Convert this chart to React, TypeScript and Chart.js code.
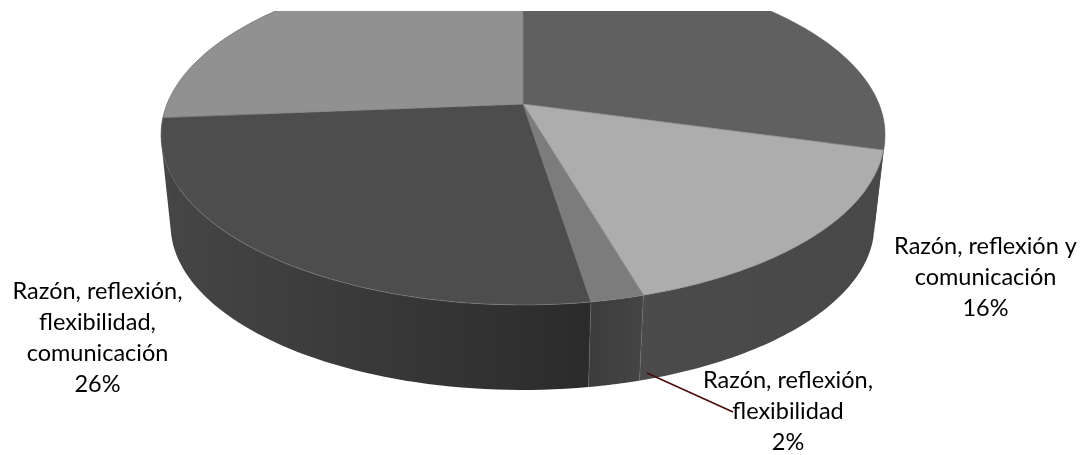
import React, { useEffect, useRef } from "react";
import { Chart, registerables } from "chart.js";

Chart.register(...registerables);

const categories = [
  "",
  "Razón, reflexión y comunicación",
  "Razón, reflexión, flexibilidad",
  "Razón, reflexión, flexibilidad, comunicación",
  "",
];
const shares = [29.3, 16.2, 2, 26.2, 26.3];
const labelLines = [
  null,
  ["Razón, reflexión y", "comunicación"],
  ["Razón, reflexión,", "flexibilidad"],
  ["Razón, reflexión,", "flexibilidad,", "comunicación"],
  null,
];
const topColors = ["#606060", "#adadad", "#7c7c7c", "#4d4d4d", "#919191"];
const sideStops = [
  ["#4f4f4f", "#4f4f4f"],
  ["#4b4b4b", "#484848"],
  ["#3c3c3c", "#454545"],
  ["#464646", "#2b2b2b"],
  ["#444444", "#444444"],
];

const W = 1081;
const H = 455;
const TOP = { cx: 523, cy: 104, a: 164.3, c: -0.1824, d: 356 };
const BOTTOM = { cx: 522.5, cy: 194.9, a: 159.5, c: -0.1824, d: 346 };
const CLIP_Y = 11;
const labelAnchors: Record<number, { x: number; y: number }> = {
  1: { x: 985.5, y: 246 },
  2: { x: 788, y: 380 },
  3: { x: 97.5, y: 291 },
};
const LINE_H = 31;

type P = typeof TOP;
const project = (p: P, t: number): [number, number] => {
  const u = Math.cos(t);
  const v = Math.sin(t);
  const k = 1 + p.c * v;
  return [p.cx + (p.d * u) / k, p.cy + (p.a * v) / k];
};

const pie3d = {
  id: "pie3d",
  beforeDatasetsDraw(chart: any) {
    const ctx: CanvasRenderingContext2D = chart.ctx;
    const arcs = chart.getDatasetMeta(0).data;
    const STEPS = 60;

    ctx.save();
    ctx.beginPath();
    ctx.rect(0, CLIP_Y, W, H - CLIP_Y);
    ctx.clip();

    // rim walls
    arcs.forEach((arc: any, i: number) => {
      const s = arc.startAngle;
      const e = arc.endAngle;
      let minX = Infinity;
      let maxX = -Infinity;
      ctx.beginPath();
      for (let k = 0; k < STEPS; k++) {
        const t0 = s + ((e - s) * k) / STEPS;
        const t1 = s + ((e - s) * (k + 1)) / STEPS;
        const q = [project(TOP, t0), project(TOP, t1), project(BOTTOM, t1), project(BOTTOM, t0)];
        let area = 0;
        q.forEach((p, n) => {
          const r = q[(n + 1) % 4];
          area += p[0] * r[1] - r[0] * p[1];
          minX = Math.min(minX, p[0]);
          maxX = Math.max(maxX, p[0]);
        });
        if (area < 0) q.reverse();
        ctx.moveTo(q[0][0], q[0][1]);
        ctx.lineTo(q[1][0], q[1][1]);
        ctx.lineTo(q[2][0], q[2][1]);
        ctx.lineTo(q[3][0], q[3][1]);
        ctx.closePath();
      }
      const g = ctx.createLinearGradient(minX, 0, maxX, 0);
      g.addColorStop(0, sideStops[i][0]);
      g.addColorStop(1, sideStops[i][1]);
      ctx.fillStyle = g;
      ctx.fill();
    });

    // wall seams
    ctx.strokeStyle = "rgba(110,110,110,0.45)";
    ctx.lineWidth = 1;
    arcs.forEach((arc: any) => {
      const t = project(TOP, arc.startAngle);
      const b = project(BOTTOM, arc.startAngle);
      if (Math.sin(arc.startAngle) > 0.3) {
        ctx.beginPath();
        ctx.moveTo(t[0], t[1]);
        ctx.lineTo(b[0], b[1]);
        ctx.stroke();
      }
    });

    // top face
    arcs.forEach((arc: any, i: number) => {
      const s = arc.startAngle;
      const e = arc.endAngle;
      ctx.beginPath();
      ctx.moveTo(TOP.cx, TOP.cy);
      for (let k = 0; k <= STEPS; k++) {
        const [x, y] = project(TOP, s + ((e - s) * k) / STEPS);
        ctx.lineTo(x, y);
      }
      ctx.closePath();
      ctx.fillStyle = topColors[i];
      ctx.fill();
      ctx.strokeStyle = "rgba(125,125,125,0.7)";
      ctx.lineWidth = 0.8;
      ctx.stroke();
    });
    ctx.restore();

    // leader line
    ctx.strokeStyle = "#4a0a0a";
    ctx.lineWidth = 1.5;
    ctx.beginPath();
    ctx.moveTo(647, 373);
    ctx.lineTo(733, 412);
    ctx.stroke();

    // labels
    ctx.fillStyle = "#000";
    ctx.font = '23.5px Lato, "Open Sans", sans-serif';
    ctx.textAlign = "center";
    ctx.textBaseline = "middle";
    labelLines.forEach((lines, i) => {
      if (!lines) return;
      const at = labelAnchors[i];
      const all = [...lines, `${Math.round(shares[i])}%`];
      all.forEach((l, n) => ctx.fillText(l, at.x, at.y + n * LINE_H));
    });
    return false;
  },
};

export default function App() {
  const ref = useRef<HTMLCanvasElement>(null);
  useEffect(() => {
    document.body.style.margin = "0";
    document.body.style.background = "#fff";
    const chart = new Chart(ref.current!, {
      type: "pie",
      data: {
        labels: categories,
        datasets: [{ data: shares, backgroundColor: topColors, borderWidth: 0 }],
      },
      options: {
        responsive: false,
        animation: false,
        events: [],
        layout: { padding: 0 },
        plugins: { legend: { display: false }, tooltip: { enabled: false }, title: { display: false } },
      },
      plugins: [pie3d],
    } as any);
    return () => chart.destroy();
  }, []);
  return <canvas ref={ref} width={W} height={H} style={{ display: "block" }} />;
}
